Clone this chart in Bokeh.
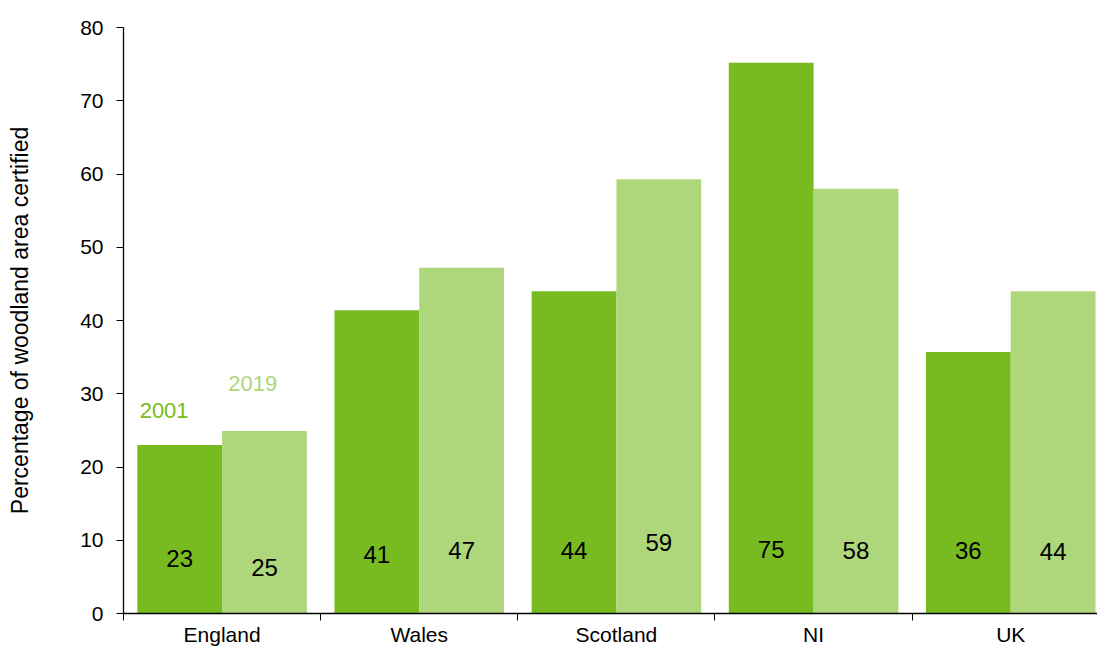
from bokeh.plotting import figure
from bokeh.models import Range1d, FixedTicker, ColumnDataSource
from bokeh.core.properties import value
from bokeh.embed import file_html
from bokeh.resources import INLINE
import numpy as np

# ---- data ----
countries = ["England", "Wales", "Scotland", "NI", "UK"]
pct_2001 = [23.0, 41.4, 44.0, 75.2, 35.7]
pct_2019 = [24.9, 47.2, 59.3, 58.0, 44.0]
# vertical placement of the value labels inside bars (data units)
label_pos_2001 = [7.5, 8.0, 8.6, 8.8, 8.6]
label_pos_2019 = [6.3, 8.6, 9.7, 8.6, 8.5]
y_ticks = [0, 10, 20, 30, 40, 50, 60, 70, 80]

DARK = "#77BB20"
LIGHT = "#AED67A"
FONT = "Liberation Sans"

idx = np.arange(len(countries))
centers = idx + 0.5
off = 0.215
bw = 0.43

src01 = ColumnDataSource(dict(x=centers - off, top=pct_2001, ly=label_pos_2001,
                              txt=[str(int(round(v))) for v in pct_2001]))
src19 = ColumnDataSource(dict(x=centers + off, top=pct_2019, ly=label_pos_2019,
                              txt=[str(int(round(v))) for v in pct_2019]))

p = figure(width=1097, height=649, output_backend="svg", toolbar_location=None,
           x_range=Range1d(0, 4.94), y_range=Range1d(0, 80),
           min_border_left=123, min_border_right=0, min_border_top=27,
           min_border_bottom=36)
p.outline_line_color = None
p.xgrid.visible = False
p.ygrid.visible = False
p.background_fill_color = "white"
p.border_fill_color = "white"

p.vbar(x="x", top="top", width=bw, bottom=0, source=src01, fill_color=DARK, line_color=None)
p.vbar(x="x", top="top", width=bw, bottom=0, source=src19, fill_color=LIGHT, line_color=None)

p.text(x="x", y="ly", text="txt", source=src01, text_align="center", text_baseline="middle",
       text_font=value(FONT), text_font_size="24px", text_color="black")
p.text(x="x", y="ly", text="txt", source=src19, text_align="center", text_baseline="middle",
       text_font=value(FONT), text_font_size="24px", text_color="black")

# series labels
p.text(x=[0.206], y=[27.7], text=["2001"], text_align="center", text_baseline="middle",
       text_font=value(FONT), text_font_size="22px", text_color=DARK)
p.text(x=[0.655], y=[31.4], text=["2019"], text_align="center", text_baseline="middle",
       text_font=value(FONT), text_font_size="22px", text_color=LIGHT)

# x axis: labels at centres, ticks at boundaries
xa = p.xaxis[0]
xa.ticker = FixedTicker(ticks=list(centers), minor_ticks=list(range(len(countries) + 1)))
xa.major_label_overrides = {float(c): n for c, n in zip(centers, countries)}
xa.major_tick_out = 0
xa.major_tick_in = 0
xa.minor_tick_out = 7
xa.minor_tick_in = 0
xa.minor_tick_line_color = "black"
xa.axis_line_color = "black"
xa.axis_line_width = 1.3
xa.major_label_standoff = 2
xa.major_label_text_font = FONT
xa.major_label_text_font_size = "21px"
xa.major_label_text_color = "black"

ya = p.yaxis[0]
ya.ticker = FixedTicker(ticks=y_ticks, minor_ticks=[])
ya.major_tick_out = 7
ya.major_tick_in = 0
ya.minor_tick_out = 0
ya.minor_tick_in = 0
ya.axis_line_color = "black"
ya.axis_line_width = 1.3
ya.major_tick_line_color = "black"
ya.major_label_standoff = 13
ya.major_label_text_font = FONT
ya.major_label_text_font_size = "21px"
ya.major_label_text_color = "black"
ya.axis_label = "Percentage of woodland area certified"
ya.axis_label_text_font = FONT
ya.axis_label_text_font_size = "23px"
ya.axis_label_text_font_style = "normal"
ya.axis_label_text_color = "black"
ya.axis_label_standoff = 44

open("out.html", "w").write(file_html(p, INLINE))
